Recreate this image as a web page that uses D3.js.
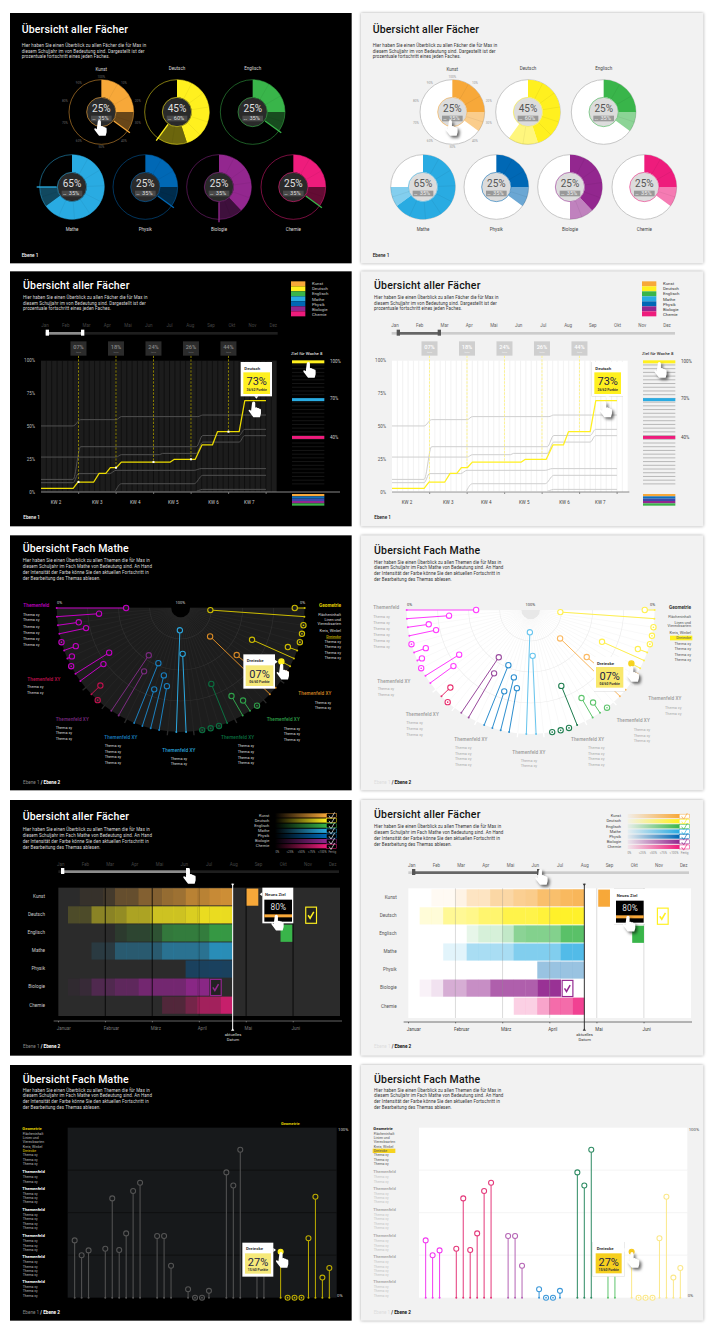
<!DOCTYPE html>
<html>
<head>
<meta charset="utf-8">
<title>Übersicht</title>
<script src="https://cdn.jsdelivr.net/npm/d3@7"></script>
<style>
  body { margin: 0; background: #fff; }
  svg { display: block; }
  text { font-family: Roboto, "Noto Sans", sans-serif; }
</style>
</head>
<body>
<svg id="chart" width="712" height="1335"></svg>
<script>
const subjects = ['Kunst', 'Deutsch', 'Englisch', 'Mathe', 'Physik', 'Biologie', 'Chemie']
const subjectColors = ['#f7a839', '#fff01f', '#39b54a', '#29abe2', '#0068b5', '#93278f', '#ee1c7c']
const months = ['Jan', 'Feb', 'Mar', 'Apr', 'Mai', 'Jun', 'Jul', 'Aug', 'Sep', 'Okt', 'Nov', 'Dez']

// donuts
const donutDone = [25, 45, 25, 65, 25, 38, 25]
const donutGoal = [35, 60, 35, 75, 35, 50, 35]
const donutLabel = [25, 45, 25, 65, 25, 25, 25]
const donutBadge = [35, 60, 35, 35, 35, 35, 35]
const donutMarker = ['#f7a839', '#fff01f', '#39b54a', '#29abe2', '#0068b5', '#93278f', '#39b54a']
const ringLabels = [10, 20, 30, 40, 50, 60, 70, 80, 90, 100]

// weekly progress lines, [day, percent]
const lineDeutsch = [[0, 2.8], [6, 2.8], [6.9, 7.6], [9.85, 7.6], [10.85, 14.2], [12.1, 14.2], [12.95, 18.5], [14.05, 18.5], [15, 22.8], [24.15, 22.8], [24.9, 24.9], [28.8, 24.9], [30.05, 35.8], [32, 35.8], [32.95, 45.9], [37, 45.9], [38.05, 69.5], [42, 69.5]]
const lineGrayA = [[0, 50.3], [6, 50.3], [7.4, 55.1], [14.05, 55.1], [15, 57.4], [29.3, 57.4], [30.2, 58.6], [42, 58.6]]
const lineGrayB = [[0, 9.6], [6, 9.6], [7.4, 34.5], [29, 34.5], [30.2, 43], [37, 43], [38, 47.7], [42, 47.7]]
const lineGrayC = [[0, 7.1], [6, 7.1], [7, 14], [12.8, 14], [14, 16.5], [28.6, 16.5], [29.9, 17.8], [42, 17.8]]
const lineGrayD = [[0, 26.6], [14.05, 26.6], [15, 28.4], [22.1, 28.4], [22.7, 29.4], [29, 29.4], [30.2, 38], [37, 38], [38, 42.9], [42, 42.9]]
const lineGrayE = [[13.8, 0], [15, 6.3], [28.6, 6.3], [30.2, 12.7], [42, 12.7]]
const lineGrayF = [[0, 0.2], [28.6, 0.2], [30.2, 2], [42, 2]]
const grayLines = [lineGrayA, lineGrayB, lineGrayC, lineGrayD, lineGrayE, lineGrayF]
const kwLabels = ['KW 2', 'KW 3', 'KW 4', 'KW 5', 'KW 6', 'KW 7']
const kwLabelDays = [2.8, 10.5, 17.6, 24.7, 32.2, 38.9]
const kwTicks = [7, 14, 21, 28, 35, 42]
const kwBadgeDays = [7, 14, 21, 28, 35]
const kwBadgeText = ['07%', '18%', '24%', '26%', '44%']
const kwBadgeValues = [7.6, 18.5, 22.8, 24.9, 45.9]
const goalValues = [100, 70, 40]
const goalColors = ['#fff01f', '#29abe2', '#ee1c7c']
const stackColors = ['#f7a839', '#0f6fbd', '#3a4aa8', '#93278f', '#39b54a']

// fan of topics: angle counted from the left edge through the bottom, value in percent
const fanAngles = [0, 4, 8, 12, 16, 20, 24, 28, 32, 36, 44, 48, 56, 60, 68, 72, 76, 80, 88, 92.5, 100, 104, 108, 112, 120, 124, 128, 136, 140, 148, 152, 156, 160, 164, 168, 172, 176, 180]
const fanValues = [56, 34, 17, 22, 0, 10, 4, 0, 32, 23, 10, 0, 54, 41, 52, 31, 44, 36, 82, 63, 0, 0, 0, 34, 18, 10, 0, 67, 41, 0, 8, 37, 8, 0, 0, 0, 76, 8]
const fanGroups = [0, 0, 0, 0, 0, 0, 0, 0, 0, 0, 1, 1, 2, 2, 3, 3, 3, 3, 4, 4, 5, 5, 5, 5, 6, 6, 6, 7, 7, 7, 8, 8, 8, 8, 8, 8, 8, 8]
const fanHighlight = 30
const fanDark = ['#c400c4', '#c0104e', '#7b2a80', '#1a80c0', '#2aa6de', '#0a7040', '#2fa14a', '#d98a25', '#cdbd00']
const fanLight = ['#ff3cff', '#e8306f', '#9a4a9e', '#2d8fd0', '#67c5ee', '#1e7d4f', '#5fc56e', '#fbb860', '#fff04d']
const fanNotches = [40, 52, 64, 84, 96, 116, 132, 144]
const fanGroupNames = ['Themenfeld', 'Themenfeld XY', 'Themenfeld XY', 'Themenfeld XY', 'Themenfeld XY', 'Themenfeld XY', 'Themenfeld XY', 'Themenfeld XY']
const geometrieTopics = ['Flächeninhalt', 'Linen und', 'Vierecksarten', 'Kreis, Winkel', 'Dreiecke', 'Thema xy', 'Thema xy', 'Thema xy', 'Thema xy']

// heat rows: colour strength per week, one list per subject
const heatKunst = [0, 0.06, 0.06, 0.14, 0.32, 0.32, 0.48, 0.48, 0.58, 0.62, 0.78, 0.78, 0.85, 0.88]
const heatDeutsch = [0.18, 0.18, 0.5, 0.5, 0.55, 0.68, 0.68, 0.85, 0.85, 0.85, 0.92, 1, 1, 1]
const heatEnglisch = [0, 0, 0, 0, 0.13, 0.22, 0.22, 0.32, 0.62, 0.66, 0.66, 0.66, 0.88, 0.88]
const heatMathe = [0, 0, 0.14, 0.14, 0.42, 0.42, 0.42, 0.42, 0.62, 0.62, 0.62, 0.62, 0.85, 0.85]
const heatPhysik = [0, 0, 0, 0, 0, 0, 0, 0, 0, 0, 0.42, 0.42, 0.42, 0.42]
const heatBiologie = [0.06, 0.14, 0.4, 0.4, 0.55, 0.55, 0.78, 0.78, 0.78, 0.78, 1, 1, 0, 0]
const heatChemie = [0, 0, 0, 0, 0, 0, 0, 0, 0.22, 0.22, 0.42, 0.68, 0.68, 0.88]
const heatRows = [heatKunst, heatDeutsch, heatEnglisch, heatMathe, heatPhysik, heatBiologie, heatChemie]
const goalWeek = [15.18, 20.17, 18.07, 12.07]
const goalRow = ['Kunst', 'Deutsch', 'Englisch', 'Biologie']
const goalChecked = [false, true, false, true]
const monthsLong = ['Januar', 'Februar', 'März', 'April', 'Mai', 'Juni']
const legendSteps = ['0%', '<25%', '<50%', '<75%', '<100%', 'Fertig']

// lollipops: slot along the axis, value in percent
const popSlots = [0, 1, 2, 4.4, 5.4, 6.4, 7.4, 8.4, 9.4, 11.85, 12.85, 13.85, 16.3, 17.3, 18.3, 19.3, 21.8, 22.8, 23.8, 26.2, 27.2, 29.6, 30.6, 31.6, 32.6, 33.6, 34.6, 35.6, 36.6]
const popValues = [33.7, 25, 27.8, 28.8, 58.4, 28, 37.8, 62.7, 67.6, 36.3, 36.3, 18.8, 5, 0, 0, 4, 73.7, 66, 87, 23, 25, 27, 0, 0, 0, 35, 59.4, 11.8, 17.5]
const popGroups = [0, 0, 0, 1, 1, 1, 1, 1, 1, 2, 2, 2, 3, 3, 3, 3, 4, 4, 4, 5, 5, 6, 6, 6, 6, 6, 6, 6, 6]
const popHighlight = 21
const popLight = ['#f23cf0', '#e4387a', '#b565b5', '#3a97d8', '#2e8b63', '#5fc56e', '#fbe88a']
const popGrid = [25, 50, 75]
const popListTopics = [['Themenfeld', 2], ['Themenfeld', 3], ['Themenfeld', 4], ['Themenfeld', 3], ['Themenfeld', 4], ['Themenfeld', 3]]

const textAll = ['Hier haben Sie einen Überblick zu allen Fächer die für Max in', 'diesem Schuljahr im von Bedeutung sind. Dargestellt ist der', 'prozentuale fortschritt eines jeden Faches.']
const textTopics = ['Hier haben Sie einen Überblick zu allen Themen die für Max in', 'diesem Schuljahr im Fach Mathe von Bedeutung sind. An Hand', 'der Intensität der Farbe könne Sie den aktuellen Fortschritt in', 'der Bearbeitung des Themas ablesen.']

const dark = { dark: true, bg: '#000', fg: '#fff', text: '#dcdcdc', muted: '#6e6e6e', dx: 0 }
const light = { dark: false, bg: '#f2f2f2', fg: '#111', text: '#333', muted: '#777', dx: 3 }
const handPath = 'M-1.6,1 a1.6,1.6 0 0 1 3.2,0 v4.6 l0.7,-0.2 q1.2,-0.2 1.4,0.7 l0.5,-0.1 q1.2,-0.2 1.4,0.8 l0.4,0 q1.3,-0.1 1.3,1.2 v3.6 l-1,3.6 h-6.6 l-4.6,-6.2 q-0.6,-1.3 0.9,-1.3 l1.4,1 z'

const svg = d3.select('#chart')

// each panel is drawn in the units of a 3x crop, so the group is scaled down by 3
function panel(cropX, cropY, t, top, bottom) {
  const g = svg.append('g').attr('transform', `translate(${cropX},${cropY}) scale(${1 / 3})`)
  g.append('rect')
    .attr('x', t.dark ? 0 : 3).attr('y', top)
    .attr('width', t.dark ? 1025 : 1027).attr('height', bottom - top)
    .attr('fill', t.bg)
    .style('filter', t.dark ? null : 'drop-shadow(0 0 5px rgba(0,0,0,0.35))')
  return g
}

function txt(g, x, y, s, size, fill, anchor, weight) {
  return g.append('text')
    .attr('x', x).attr('y', y)
    .attr('font-size', size)
    .attr('fill', fill)
    .attr('text-anchor', anchor || 'start')
    .attr('font-weight', weight || 400)
    .text(s)
}

function header(g, t, title, lines, titleY, bodyY, x) {
  txt(g, x, titleY, title, 31.5, t.fg, 'start', 500).attr('letter-spacing', 0.55)
  lines.forEach((l, i) => txt(g, x, bodyY + i * 17.2, l, 13.4, t.text).attr('letter-spacing', 0.28))
}

function footer(g, t, x, y, two) {
  if (!two) {
    txt(g, x, y, 'Ebene 1', 14, t.fg, 'start', 500)
    return
  }
  txt(g, x, y, 'Ebene 1 ', 14, t.dark ? '#888' : '#ddd')
  txt(g, x + 53, y, '/ Ebene 2', 14, t.fg, 'start', 700)
}

function hand(g, t, x, y) {
  g.append('path')
    .attr('d', handPath)
    .attr('transform', `translate(${x},${y}) scale(3)`)
    .attr('fill', '#fff')
    .style('filter', t.dark ? null : 'drop-shadow(2px 2px 1.6px rgba(0,0,0,0.6))')
}

function slider(g, t, o) {
  const x = d3.scalePoint().domain(months).range([o.m0, o.m1])
  months.forEach(m => txt(g, x(m), o.labelY, m, 13.5, t.dark ? '#444' : '#666', 'middle'))
  g.append('rect').attr('x', o.t0).attr('y', o.trackY - 4).attr('width', o.t1 - o.t0).attr('height', 8)
    .attr('fill', t.dark ? '#1e1e1e' : '#ccc')
  g.append('rect').attr('x', o.s0).attr('y', o.trackY - 4).attr('width', o.s1 - o.s0).attr('height', 8)
    .attr('fill', t.dark ? '#8c8c8c' : '#666')
  ;[o.s0, o.s1].forEach(s => {
    g.append('rect').attr('x', s - 5).attr('y', o.trackY - 11).attr('width', 10).attr('height', 18)
      .attr('fill', t.dark ? '#fff' : '#555')
  })
}

function tooltip(g, o) {
  g.append('rect').attr('x', o.x0).attr('y', o.y0).attr('width', o.x1 - o.x0).attr('height', o.y1 - o.y0)
    .attr('fill', '#fff').style('filter', 'drop-shadow(0 0 2px rgba(0,0,0,0.35))')
  txt(g, o.bx0 + 3, o.y0 + 23, o.title, 13, '#333', 'start', 700)
  g.append('rect').attr('x', o.bx0).attr('y', o.by0).attr('width', o.bx1 - o.bx0).attr('height', o.by1 - o.by0)
    .attr('fill', o.color)
  const mid = (o.bx0 + o.bx1) / 2
  txt(g, mid, o.by0 + 39, o.pct, 33, '#222244', 'middle')
  txt(g, mid, o.by1 - 8, o.sub, 10, '#333', 'middle', 700)
}

function checkMark(g, x, y, color, width) {
  g.append('path')
    .attr('d', `M${x - 9},${y} l6,9 l11,-19`)
    .attr('fill', 'none').attr('stroke', color).attr('stroke-width', width)
}

// ---- donuts
function drawDonuts(g, t) {
  const row1 = [274, 501, 728]
  const row2 = [186, 406, 627, 850]
  const centers = row1.map(x => [x + t.dx, 321]).concat(row2.map(x => [x + t.dx, 546]))
  const angle = d3.scaleLinear().domain([0, 100]).range([0, 2 * Math.PI])
  const arc = d3.arc().innerRadius(44).outerRadius(97)

  subjects.forEach((name, i) => {
    const [cx, cy] = centers[i]
    const d = g.append('g').attr('transform', `translate(${cx},${cy})`)
    d.append('circle').attr('r', 97)
      .attr('fill', t.dark ? 'none' : '#fff')
      .attr('stroke', t.dark ? subjectColors[i] : '#c8c8c8')
      .attr('stroke-opacity', t.dark ? 0.5 : 1)
      .attr('stroke-width', 3)

    const slice = (from, to, opacity) => {
      d.append('path')
        .attr('d', arc({ startAngle: angle(from), endAngle: angle(to) }))
        .attr('fill', subjectColors[i])
        .attr('fill-opacity', opacity)
      // thin dividers inside the slice
      const parts = Math.ceil((to - from) / 8.34)
      d3.range(1, parts).forEach(k => {
        const a = angle(from + (to - from) * k / parts)
        const p0 = d3.pointRadial(a, 44)
        const p1 = d3.pointRadial(a, 97)
        d.append('line').attr('x1', p0[0]).attr('y1', p0[1]).attr('x2', p1[0]).attr('y2', p1[1])
          .attr('stroke', '#000').attr('stroke-opacity', 0.1).attr('stroke-width', 1.5)
      })
    }
    slice(0, donutDone[i], 1)
    slice(donutDone[i], donutGoal[i], t.dark ? 0.42 : 0.58)

    if (t.dark) {
      const a = angle(donutGoal[i])
      const p0 = d3.pointRadial(a, 46)
      const p1 = d3.pointRadial(a, 106)
      d.append('line').attr('x1', p0[0]).attr('y1', p0[1]).attr('x2', p1[0]).attr('y2', p1[1])
        .attr('stroke', donutMarker[i]).attr('stroke-width', 4)
    }

    d.append('circle').attr('r', 44)
      .attr('fill', t.dark ? '#2a2a2a' : '#dcdcdc')
      .attr('stroke', subjectColors[i]).attr('stroke-opacity', t.dark ? 0.6 : 0.55)
      .attr('stroke-width', 3)
    txt(d, 0, -1, donutLabel[i] + '%', 30, t.dark ? '#e0e0e0' : '#555', 'middle')
    d.append('rect').attr('x', -31).attr('y', 11).attr('width', 62).attr('height', 17)
      .attr('fill', t.dark ? '#4a4a4a' : '#999')
    txt(d, -22, 25, 'bis', 7, t.dark ? '#ddd' : '#eee', 'middle')
    txt(d, 6, 25, donutBadge[i] + '%', 17, t.dark ? '#ddd' : '#eee', 'middle')

    txt(g, cx, i < 3 ? (i === 0 ? 199 : 196) : 679, name, 13.5, t.dark ? '#ddd' : '#444', 'middle')
  })

  // percentage ring around the first donut
  ringLabels.forEach(p => {
    const a = angle(p)
    txt(g, centers[0][0] + 115 * Math.sin(a), centers[0][1] - 106 * Math.cos(a) + 3, p + '%', 9.5, t.dark ? '#666' : '#999', 'middle')
  })
}

// ---- week chart
function drawWeeks(g, t) {
  const dx = t.dx
  const x = d3.scaleLinear().domain([0, 44]).range([93 + dx, 800 + dx])
  const y = d3.scaleLinear().domain([0, 100]).range([672, 278])

  g.append('rect').attr('x', x(0)).attr('y', y(100)).attr('width', x(44) - x(0)).attr('height', y(0) - y(100))
    .attr('fill', t.dark ? '#1c1c1c' : '#fff')
  g.selectAll('.dayline').data(d3.range(1, 44)).enter().append('line')
    .attr('x1', d => x(d)).attr('x2', d => x(d)).attr('y1', y(100)).attr('y2', y(0))
    .attr('stroke', t.dark ? '#080808' : '#eaeaea').attr('stroke-width', 1.8)

  const yAxis = g.append('g').attr('transform', `translate(${75 + dx},0)`)
    .call(d3.axisLeft(y).tickValues([0, 25, 50, 75, 100]).tickSize(0).tickFormat(d => d + '%'))
  yAxis.select('.domain').remove()
  yAxis.selectAll('text').attr('x', 0).attr('font-size', 13.5).attr('fill', t.dark ? '#bbb' : '#555')

  const xAxis = g.append('g').attr('transform', `translate(0,${y(0)})`)
    .call(d3.axisBottom(x).tickValues(kwTicks).tickSize(6).tickFormat(''))
  xAxis.select('.domain').remove()
  xAxis.selectAll('line').attr('stroke', t.dark ? '#aaa' : '#555').attr('stroke-width', 2)
  g.append('line').attr('x1', x(0)).attr('x2', t.dark ? 990 : 808).attr('y1', y(0)).attr('y2', y(0))
    .attr('stroke', '#888').attr('stroke-width', 3)
  kwLabels.forEach((k, i) => txt(g, x(kwLabelDays[i]), 707, k, 13.5, t.dark ? '#ccc' : '#444', 'middle'))

  const line = d3.line().x(d => x(d[0])).y(d => y(d[1]))
  grayLines.forEach(l => {
    g.append('path').attr('d', line.curve(d3.curveMonotoneX)(l))
      .attr('fill', 'none').attr('stroke', t.dark ? '#505050' : '#cfcfcf').attr('stroke-width', 3)
  })

  kwBadgeDays.forEach((d, i) => {
    g.append('line').attr('x1', x(d)).attr('x2', x(d)).attr('y1', 263).attr('y2', y(kwBadgeValues[i]))
      .attr('stroke', t.dark ? '#a89c00' : '#fff27a').attr('stroke-width', 2.4).attr('stroke-dasharray', '7 4')
    g.append('rect').attr('x', x(d) - 24).attr('y', 220).attr('width', 48).attr('height', 43)
      .attr('fill', t.dark ? '#2b2b2b' : '#cfcfcf')
    txt(g, x(d), 243, kwBadgeText[i], 17, t.dark ? '#888' : '#fff', 'middle', 500)
    txt(g, x(d), 254, 'fertig', 6.5, t.dark ? '#777' : '#f4f4f4', 'middle')
  })

  g.append('path').attr('d', line.curve(d3.curveLinear)(lineDeutsch))
    .attr('fill', 'none').attr('stroke', t.dark ? '#ecdc00' : '#fff01f').attr('stroke-width', 3.8).attr('stroke-linejoin', 'round')
  if (t.dark) {
    kwBadgeDays.forEach((d, i) => {
      g.append('rect').attr('x', x(d) - 3).attr('y', y(kwBadgeValues[i]) - 3).attr('width', 6).attr('height', 6).attr('fill', '#fff')
    })
  }

  tooltip(g, { x0: 692 + dx, y0: 282, x1: 786 + dx, y1: 385, bx0: 700 + dx, by0: 313, bx1: 780 + dx, by1: 378, title: 'Deutsch', pct: '73%', sub: '36/62 Punkte', color: '#fff01f' })
  g.append('path').attr('d', `M${733 + dx},385 h12 l-6,7 z`).attr('fill', '#fff')
  hand(g, t, 731 + dx, 402)

  // goal column on the right
  const yGoal = d3.scaleLinear().domain([0, 100]).range([659, 281])
  g.selectAll('.goal').data(d3.range(3, 100, 2.95)).enter().append('rect')
    .attr('x', 846 + dx).attr('width', 97).attr('y', d => yGoal(d) - 1.5).attr('height', 3)
    .attr('fill', t.dark ? '#161616' : '#b8b8b8')
  goalValues.forEach((v, i) => {
    g.append('rect').attr('x', 846 + dx).attr('width', 97).attr('y', yGoal(v) - 4).attr('height', 9).attr('fill', goalColors[i])
    txt(g, 960 + dx, yGoal(v) + 4 + (i === 1 ? -3 : 0), v + '%', 13.5, t.dark ? '#ccc' : '#444')
  })
  txt(g, 890 + dx, 262, 'Ziel für Woche 8', 13, t.dark ? '#ddd' : '#333', 'middle', 500)
  stackColors.forEach((c, i) => {
    g.append('rect').attr('x', 846 + dx).attr('width', 97).attr('y', 678 + i * 7).attr('height', 7).attr('fill', c)
  })
  hand(g, t, 895 + dx, 284)

  subjects.forEach((s, i) => {
    g.append('rect').attr('x', 843 + dx).attr('y', 40 + i * 15).attr('width', 43).attr('height', 15).attr('fill', subjectColors[i])
    txt(g, 906 + dx, 52 + i * 15.2, s, 13, t.dark ? '#ccc' : '#333')
  })
}

// ---- fan of topics
function drawFan(g, t) {
  const cx = 512
  const cy = t.dark ? 228 : 234
  const colors = t.dark ? fanDark : fanLight
  const fanBg = t.dark ? '#1d1d1d' : '#fff'
  const r = d3.scaleLinear().domain([0, 100]).range([372, 0])
  const theta = d3.scaleLinear().domain([0, 180]).range([1.5 * Math.PI, 0.5 * Math.PI])
  const fan = g.append('g').attr('transform', `translate(${cx},${cy})`)

  fan.append('path')
    .attr('d', d3.arc().innerRadius(0).outerRadius(r(0))({ startAngle: Math.PI / 2, endAngle: 1.5 * Math.PI }))
    .attr('fill', fanBg)

  d3.range(0, 181, 4).forEach(a => {
    const p0 = d3.pointRadial(theta(a), 28)
    const p1 = d3.pointRadial(theta(a), r(0))
    fan.append('line').attr('x1', p0[0]).attr('y1', p0[1]).attr('x2', p1[0]).attr('y2', p1[1])
      .attr('stroke', t.dark ? '#2a2a2a' : '#f3f3f3').attr('stroke-width', 1.5)
  })
  ;[25, 50, 75].forEach(v => {
    fan.append('path')
      .attr('d', d3.arc().innerRadius(r(v) - 1).outerRadius(r(v) + 1)({ startAngle: Math.PI / 2, endAngle: 1.5 * Math.PI }))
      .attr('fill', t.dark ? '#303030' : '#ececec')
  })
  fan.append('path')
    .attr('d', d3.arc().innerRadius(0).outerRadius(28)({ startAngle: Math.PI / 2, endAngle: 1.5 * Math.PI }))
    .attr('fill', t.dark ? '#000' : '#e8e8e8')

  fanNotches.forEach(a => {
    const p0 = d3.pointRadial(theta(a), r(0) - 2)
    const p1 = d3.pointRadial(theta(a), r(0) + 12)
    fan.append('line').attr('x1', p0[0]).attr('y1', p0[1]).attr('x2', p1[0]).attr('y2', p1[1])
      .attr('stroke', t.dark ? '#2a2a2a' : '#fff').attr('stroke-width', 4)
  })

  fanValues.forEach((v, i) => {
    const a = theta(fanAngles[i])
    const c = colors[fanGroups[i]]
    const end = d3.pointRadial(a, r(0))
    const head = d3.pointRadial(a, r(v))
    const hi = i === fanHighlight
    if (v > 0) {
      fan.append('line').attr('x1', end[0]).attr('y1', end[1]).attr('x2', head[0]).attr('y2', head[1])
        .attr('stroke', c).attr('stroke-width', 3)
      fan.append('circle').attr('cx', end[0]).attr('cy', end[1]).attr('r', 3).attr('fill', c)
    }
    fan.append('circle').attr('cx', head[0]).attr('cy', head[1]).attr('r', 8)
      .attr('fill', hi ? (t.dark ? '#fff01f' : '#f6d31f') : fanBg)
      .attr('stroke', hi ? (t.dark ? '#fff01f' : '#f6d31f') : c)
      .attr('stroke-width', 3.2)
    if (v === 0) fan.append('circle').attr('cx', head[0]).attr('cy', head[1]).attr('r', 2.5).attr('fill', c)
  })

  const headColor = (i) => t.dark ? fanDark[i] : '#999'
  const itemColor = t.dark ? '#ddd' : '#aaa'
  const groupAt = t.dark
    ? [[40, 226, 39, [251, 268, 288, 305, 325, 342]], [52, 446, 51, [469, 485]], [137, 566, 137, [591, 607, 624]], [283, 621, 284, [646, 662, 679, 695]], [457, 661, 482, [683, 699]], [633, 622, 683, [646, 662, 680, 696]], [770, 567, 821, [593, 609, 626]], [865, 489, 914, [515, 531]]]
    : [[40, 232, 40, [258, 275, 295, 311, 331, 348]], [52, 452, 53, [474, 491]], [137, 552, 139, [577, 594, 611]], [283, 626, 285, [652, 668, 684, 701]], [457, 667, 482, [689, 705]], [633, 627, 684, [652, 668, 685, 701]], [770, 571, 821, [598, 614, 631]], [865, 505, 915, [531, 548]]]
  groupAt.forEach((p, i) => {
    txt(g, p[0], p[1], fanGroupNames[i], 14, headColor(i), 'start', 500).attr('letter-spacing', 0.3)
    p[3].forEach(yy => txt(g, p[2], yy, 'Thema xy', 11.5, itemColor))
  })

  const geoY = t.dark ? [251, 268, 280, 300, 317, 332, 349, 366, 382] : [258, 275, 286, 305, 321, 339, 355, 372, 388]
  txt(g, 993, t.dark ? 224 : 231, 'Geometrie', 14, t.dark ? '#e0d000' : '#333', 'end', 700)
  geometrieTopics.forEach((s, i) => {
    if (i === 4 && !t.dark) {
      g.append('rect').attr('x', 930).attr('y', geoY[i] - 10).attr('width', 67).attr('height', 14).attr('fill', '#fff01f')
    }
    const el = txt(g, 993, geoY[i], s, 11.5, i === 4 && t.dark ? '#e0d000' : (t.dark ? '#ddd' : '#555'), 'end')
    if (i === 4 && t.dark) el.attr('text-decoration', 'underline')
  })

  const labelY = t.dark ? 216 : 222
  txt(g, 149, labelY, '0%', 12, t.dark ? '#ccc' : '#444', 'middle')
  txt(g, 511, labelY, '100%', 12, t.dark ? '#ccc' : '#444', 'middle')
  txt(g, 878, labelY, '0%', 12, t.dark ? '#ccc' : '#444', 'middle')

  if (t.dark) {
    tooltip(g, { x0: 700, y0: 367, x1: 795, y1: 470, bx0: 707, by0: 400, bx1: 790, by1: 462, title: 'Dreiecke', pct: '07%', sub: '06/60 Punkte', color: '#f6e97a' })
    g.append('path').attr('d', 'M795,383 l8,6 l-8,6 z').attr('fill', '#fff')
    hand(g, t, 815, 397)
  } else {
    tooltip(g, { x0: 702, y0: 375, x1: 795, y1: 478, bx0: 708, by0: 405, bx1: 790, by1: 467, title: 'Dreiecke', pct: '07%', sub: '04/60 Punkte', color: '#f9e86c' })
    hand(g, t, 815, 404)
  }
}

// ---- heat rows
function drawHeat(g, t) {
  const px = t.dark ? 0 : 5
  const week = d3.scaleLinear().domain([0, 14]).range([174 + px, 668 + px])
  const month = d3.scaleLinear().domain([0, 6]).range([145, t.dark ? 990 : 993])
  const row = d3.scaleBand().domain(subjects).range(t.dark ? [274, 656] : [277, 659]).padding(0.05)
  const plotTop = t.dark ? 275 : 277
  const plotBottom = t.dark ? 660 : 666

  g.append('rect').attr('x', month(0)).attr('y', plotTop).attr('width', month(6) - month(0)).attr('height', plotBottom - plotTop)
    .attr('fill', t.dark ? '#2b2b2b' : '#fff')

  subjects.forEach((s, i) => {
    heatRows[i].forEach((v, k) => {
      if (!v) return
      g.append('rect').attr('x', week(k)).attr('y', row(s)).attr('width', week(1) - week(0) + 0.5).attr('height', row.bandwidth())
        .attr('fill', subjectColors[i]).attr('fill-opacity', t.dark ? v * 0.9 : v * 0.95)
    })
    txt(g, t.dark ? 105 : 110, row(s) + row.bandwidth() / 2 + 4, s, 14, t.dark ? '#ccc' : '#555', 'end')
  })

  ;[1, 2, 3, 4, 5].forEach(m => {
    g.append('line').attr('x1', month(m)).attr('x2', month(m)).attr('y1', plotTop).attr('y2', plotBottom)
      .attr('stroke', t.dark ? '#000' : '#999').attr('stroke-opacity', t.dark ? (m === 3 ? 0.25 : 0.8) : 0.35).attr('stroke-width', 3)
  })

  goalWeek.forEach((w, i) => {
    const s = goalRow[i]
    const c = subjectColors[subjects.indexOf(s)]
    const x0 = week(w)
    const y0 = row(s) + 1
    const size = week(1) - week(0)
    if (goalChecked[i]) {
      g.append('rect').attr('x', x0 + 1.5).attr('y', y0 + 1.5).attr('width', size - 3).attr('height', row.bandwidth() - 3)
        .attr('fill', t.dark ? '#222' : '#fff').attr('stroke', c).attr('stroke-width', 3.5)
      checkMark(g, x0 + size / 2, y0 + row.bandwidth() / 2, c, 4.5)
    } else {
      g.append('rect').attr('x', x0).attr('y', y0).attr('width', size).attr('height', row.bandwidth()).attr('fill', c)
    }
  })

  // axis under the rows
  const axisY = t.dark ? 675 : 678
  const axis = g.append('g').attr('transform', `translate(0,${axisY})`)
    .call(d3.axisBottom(month).tickValues([0, 1, 2, 3, 4, 5]).tickSize(4).tickFormat(d => monthsLong[d]))
  axis.select('.domain').remove()
  axis.selectAll('line').attr('stroke', t.dark ? '#999' : '#333').attr('stroke-width', 2)
  axis.selectAll('text').attr('text-anchor', 'start').attr('x', -5).attr('y', 17).attr('font-size', 13.5)
    .attr('fill', t.dark ? '#777' : '#444')
  g.append('line').attr('x1', 131).attr('x2', 996).attr('y1', axisY).attr('y2', axisY)
    .attr('stroke', t.dark ? '#999' : '#333').attr('stroke-width', 2)

  const dateX = week(14)
  const dateColor = t.dark ? '#fff' : '#333'
  g.append('line').attr('x1', dateX).attr('x2', dateX).attr('y1', 263).attr('y2', 702).attr('stroke', dateColor).attr('stroke-width', 3)
  g.append('path').attr('d', `M${dateX - 5},263 h10 l-5,7 z`).attr('fill', dateColor)
  g.append('path').attr('d', `M${dateX - 5},704 h10 l-5,-7 z`).attr('fill', dateColor)
  txt(g, dateX + 1, 719, 'aktuelles', 12.5, t.dark ? '#ddd' : '#333', 'middle')
  txt(g, dateX + 1, 736, 'Datum', 12.5, t.dark ? '#ddd' : '#333', 'middle')

  // legend with colour ramp
  const lx = t.dark ? 778 : 783
  const barX = t.dark ? 795 : 803
  const lTop = t.dark ? 52 : 54
  subjects.forEach((s, i) => {
    const id = 'ramp' + (t.dark ? 'D' : 'L') + i
    const grad = svg.append('defs').append('linearGradient').attr('id', id)
    grad.append('stop').attr('offset', 0).attr('stop-color', subjectColors[i]).attr('stop-opacity', t.dark ? 0 : 0.06)
    grad.append('stop').attr('offset', 1).attr('stop-color', subjectColors[i]).attr('stop-opacity', 1)
    const by = lTop + i * 15.4
    txt(g, lx, by + 10, s, 12, t.dark ? '#ccc' : '#444', 'end')
    g.append('rect').attr('x', barX).attr('y', by).attr('width', 155).attr('height', 12.5).attr('fill', `url(#${id})`)
    g.append('rect').attr('x', barX + 155).attr('y', by + 0.5).attr('width', 30).attr('height', 12)
      .attr('fill', t.dark ? '#000' : '#fff').attr('stroke', subjectColors[i]).attr('stroke-width', 1.5)
    checkMark(g, barX + 171, by + 7, t.dark ? '#fff' : subjectColors[i], 2)
  })
  const stepX = t.dark ? [802, 840, 874, 905, 937, 967] : [808, 847, 880, 910, 942, 974]
  legendSteps.forEach((s, i) => txt(g, stepX[i], t.dark ? 171 : 173, s, 9, t.dark ? '#999' : '#888', 'middle'))

  // tooltip "Neues Ziel"
  const tx = t.dark ? 757 : 762
  const ty = t.dark ? 275 : 278
  g.append('rect').attr('x', tx).attr('y', ty).attr('width', 93).attr('height', 107).attr('fill', '#fff')
    .style('filter', 'drop-shadow(0 0 2px rgba(0,0,0,0.35))')
  g.append('path').attr('d', `M${tx},${ty + 14} l-8,6 l8,6 z`).attr('fill', '#fff')
  txt(g, tx + 8, ty + 24, 'Neues Ziel', 13, '#333', 'start', 700)
  g.append('rect').attr('x', tx + 6).attr('y', ty + 36).attr('width', 83).attr('height', 66).attr('fill', '#000')
  txt(g, tx + 48, ty + 68, '80%', 25, '#ddd', 'middle')
  g.append('rect').attr('x', tx + 6).attr('y', ty + 80).attr('width', 83).attr('height', 9).attr('fill', '#f7a839')
  hand(g, t, tx + 42, ty + 83)
}

// ---- lollipops
function drawPops(g, t) {
  const dx = t.dx
  const x = d3.scaleLinear().domain([0, 36.6]).range([194 + dx, 958 + dx])
  const y = d3.scaleLinear().domain([0, 100]).range([713, 203])
  const left = 173 + (t.dark ? 0 : 4)
  const right = 980 + (t.dark ? 0 : 2)
  const plotBg = t.dark ? '#17191b' : '#fff'

  g.append('rect').attr('x', left).attr('y', y(100)).attr('width', right - left).attr('height', y(0) - y(100))
    .attr('fill', plotBg)
  popGrid.forEach(v => {
    g.append('line').attr('x1', left).attr('x2', right).attr('y1', y(v)).attr('y2', y(v))
      .attr('stroke', t.dark ? '#0a0a0a' : '#eee').attr('stroke-width', 2)
  })

  const axis = g.append('g').attr('transform', `translate(${right + 1},0)`)
    .call(d3.axisRight(y).tickValues([0, 100]).tickSize(0).tickFormat(d => d + '%'))
  axis.select('.domain').remove()
  axis.selectAll('text').attr('x', d => d === 100 ? 3 : 0).attr('dy', d => d === 100 ? 9 : -4)
    .attr('font-size', 13).attr('fill', t.dark ? '#ccc' : '#555')

  const colorOf = i => {
    if (t.dark) return popGroups[i] === 6 ? '#bfae00' : '#555'
    return popLight[popGroups[i]]
  }
  popValues.forEach((v, i) => {
    const c = colorOf(i)
    const px = x(popSlots[i])
    const hi = i === popHighlight
    if (v > 0) {
      g.append('line').attr('x1', px).attr('x2', px).attr('y1', y(0)).attr('y2', y(v))
        .attr('stroke', c).attr('stroke-width', 3)
      g.append('circle').attr('cx', px).attr('cy', y(0)).attr('r', 3).attr('fill', c)
    }
    g.append('circle').attr('cx', px).attr('cy', y(v)).attr('r', 7.5)
      .attr('fill', hi ? (t.dark ? '#fff01f' : '#f6c91f') : plotBg)
      .attr('stroke', hi ? (t.dark ? '#fff01f' : '#f6c91f') : c)
      .attr('stroke-width', 3.2)
    if (v === 0) g.append('circle').attr('cx', px).attr('cy', y(0)).attr('r', 2.5).attr('fill', c)
  })

  if (t.dark) txt(g, 841, 194, 'Geometrie', 12, '#e0d000', 'middle', 700)

  // list on the left
  const lx = 37 + dx
  const headC = t.dark ? '#fff' : '#aaa'
  const itemC = t.dark ? '#bbb' : '#c4c4c4'
  txt(g, lx, 211, 'Geometrie', 12.5, t.dark ? '#e0d000' : '#222', 'start', 700)
  const geoY = [225, 238, 249, 263, 276, 289, 302, 315]
  const geoNames = ['Flächeninhalt', 'Linien und', 'Vierecksarten', 'Kreis, Winkel', 'Dreiecke', 'Thema xy', 'Thema xy', 'Thema xy']
  if (!t.dark) g.append('rect').attr('x', lx - 2).attr('y', 266).attr('width', 68).attr('height', 13).attr('fill', '#f6d31f')
  geoNames.forEach((s, i) => txt(g, lx + 1, geoY[i], s, 10.5, i === 4 && t.dark ? '#e0d000' : (t.dark ? '#bbb' : '#555')))
  const blockY = [340, 389, 453, 532, 595, 669]
  popListTopics.forEach((b, i) => {
    txt(g, lx, blockY[i], b[0], 12.5, headC, 'start', 700)
    d3.range(b[1]).forEach(k => txt(g, lx + 1, blockY[i] + 15 + k * 13, 'Thema xy', 10.5, itemC))
  })

  if (t.dark) {
    tooltip(g, { x0: 697, y0: 548, x1: 790, y1: 650, bx0: 705, by0: 580, bx1: 783, by1: 641, title: 'Dreiecke', pct: '27%', sub: '15/60 Punkte', color: '#f6e97a' })
  } else {
    tooltip(g, { x0: 698, y0: 546, x1: 793, y1: 650, bx0: 707, by0: 580, bx1: 785, by1: 640, title: 'Dreiecke', pct: '27%', sub: '15/60 Punkte', color: '#f6cf1f' })
  }
  g.append('path').attr('d', `M${790 + dx},564 l8,6 l-8,6 z`).attr('fill', '#fff')
  hand(g, t, 813 + dx, 578)
}

// ---- panels
const cropX = { dark: 10, light: 360 }
;[dark, light].forEach(t => {
  const cx = t.dark ? cropX.dark : cropX.light
  const d = t.dx

  let g = panel(cx, 5, t, 24, 775)
  header(g, t, 'Übersicht aller Fächer', textAll, 84, 126, 36 + d - 1)
  drawDonuts(g, t)
  hand(g, t, 268 + d, 347)
  footer(g, t, 35 + d, 756, false)

  g = panel(cx, 268, t, 10, 775)
  header(g, t, 'Übersicht aller Fächer', textAll, 62, 93, 40 + d - 1)
  slider(g, t, t.dark
    ? { m0: 105, m1: 790, labelY: 178, trackY: 196, t0: 105, t1: 803, s0: 112, s1: 218 }
    : { m0: 105, m1: 921, labelY: 178, trackY: 196, t0: 95, t1: 945, s0: 115, s1: 238 })
  drawWeeks(g, t)
  footer(g, t, 41 + d - 1, 754, false)

  g = panel(cx, 532, t, 10, 775)
  header(g, t, 'Übersicht Fach Mathe', textTopics, t.dark ? 61 : 65, t.dark ? 91 : 95, t.dark ? 38 : 42)
  drawFan(g, t)
  footer(g, t, 39 + (t.dark ? 0 : 3), 755, true)

  g = panel(cx, 796, t, 12, 779)
  header(g, t, 'Übersicht aller Fächer', textTopics, t.dark ? 73 : 65, t.dark ? 106 : 97, t.dark ? 38 : 42)
  slider(g, t, { m0: 150 + d + 2, m1: 966 + d + 2, labelY: t.dark ? 211 : 214, trackY: t.dark ? 227 : 230, t0: 145, t1: 987, s0: 158 + d, s1: 530 + d + 3 })
  drawHeat(g, t)
  hand(g, t, 535 + d * 2, 218 + d)
  footer(g, t, 37 + d + 2, 757, true)

  g = panel(cx, 1060, t, 15, 782)
  header(g, t, 'Übersicht Fach Mathe', textTopics, 68, 95, t.dark ? 38 : 42)
  drawPops(g, t)
  footer(g, t, 38 + d, 761, true)
})
</script>
</body>
</html>
